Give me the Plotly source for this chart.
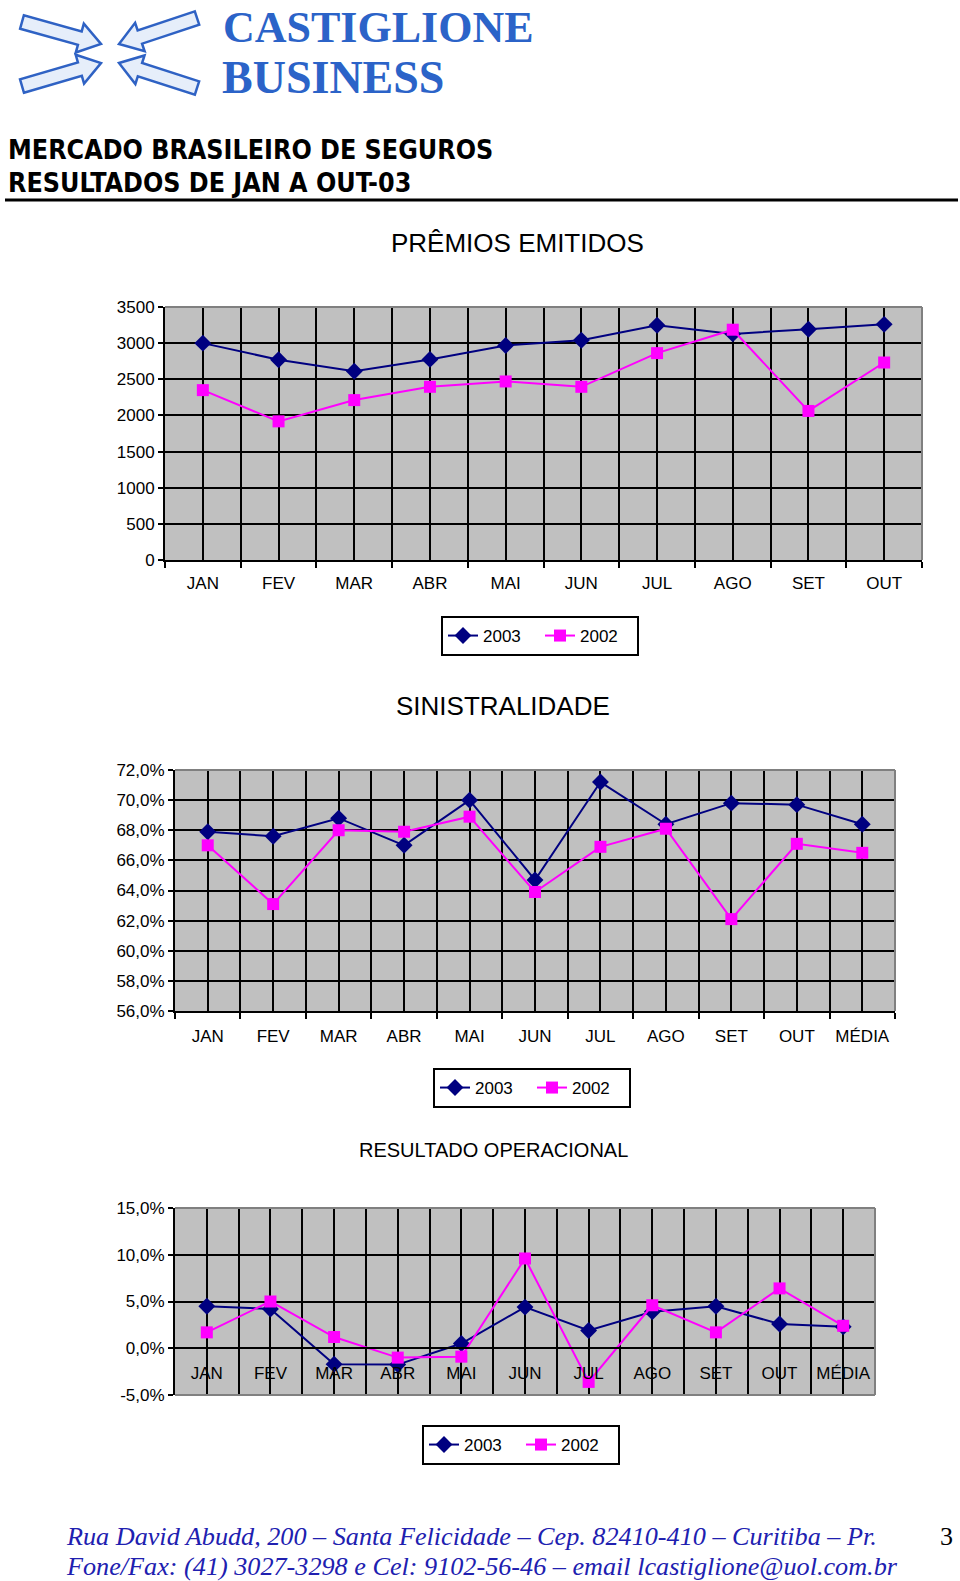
import plotly.graph_objects as go
import math

# ---------------- data ----------------
months10 = ["JAN", "FEV", "MAR", "ABR", "MAI", "JUN", "JUL", "AGO", "SET", "OUT"]
months11 = months10 + ["MÉDIA"]

premios_2003 = [3000, 2770, 2612, 2775, 2968, 3040, 3248, 3128, 3192, 3260]
premios_2002 = [2350, 1918, 2212, 2396, 2470, 2396, 2862, 3186, 2062, 2732]

sinistr_2003 = [67.9, 67.6, 68.8, 67.0, 70.0, 64.7, 71.2, 68.4, 69.8, 69.7, 68.4]
sinistr_2002 = [67.0, 63.1, 68.0, 67.9, 68.9, 63.9, 66.9, 68.1, 62.1, 67.1, 66.5]

result_2003 = [4.5, 4.2, -1.7, -1.75, 0.5, 4.4, 1.9, 3.9, 4.5, 2.6, 2.3]
result_2002 = [1.7, 5.0, 1.2, -1.0, -0.9, 9.6, -3.6, 4.6, 1.7, 6.4, 2.4]

premios_ticks = [0, 500, 1000, 1500, 2000, 2500, 3000, 3500]
sinistr_ticks = [56, 58, 60, 62, 64, 66, 68, 70, 72]
result_ticks = [-5, 0, 5, 10, 15]

# ---------------- page geometry ----------------
W, H = 960, 1581
def px(x):
    return x / W
def py(y):
    return 1 - y / H

C03 = "#000080"
C02 = "#FF00FF"
FONT = "Liberation Sans"

fig = go.Figure()

def add_series(xa, ya, cats, v03, v02, leg):
    idx = list(range(len(cats)))
    fig.add_trace(go.Scatter(x=idx, y=v03, name="2003", mode="lines+markers",
                             line=dict(color=C03, width=2),
                             marker=dict(symbol="diamond", size=13, color=C03),
                             xaxis=xa, yaxis=ya, legend=leg))
    fig.add_trace(go.Scatter(x=idx, y=v02, name="2002", mode="lines+markers",
                             line=dict(color=C02, width=2),
                             marker=dict(symbol="square", size=12, color=C02),
                             xaxis=xa, yaxis=ya, legend=leg))

add_series("x", "y", months10, premios_2003, premios_2002, "legend")
add_series("x2", "y2", months11, sinistr_2003, sinistr_2002, "legend2")
add_series("x3", "y3", months11, result_2003, result_2002, "legend3")

def xaxis_cfg(cats, dom, anchor, ticks="outside", position=None, standoff=6):
    n = len(cats)
    cfg = dict(domain=dom, range=[-0.5, n - 0.5], tickmode="array",
               tickvals=list(range(n)), ticktext=cats, ticks="",
               showgrid=True, gridcolor="black", gridwidth=2,
               showline=True, linecolor="black", linewidth=2,
               zeroline=False, fixedrange=True, ticklabelstandoff=standoff,
               automargin=False,
               tickfont=dict(family=FONT, size=17, color="black"),
               minor=dict(tickmode="array", tickvals=[i - 0.5 for i in range(n + 1)],
                          ticks=ticks, ticklen=6, tickwidth=1.5, tickcolor="black",
                          showgrid=True, gridcolor="black", gridwidth=2))
    if position is None:
        cfg["anchor"] = anchor
    else:
        cfg["anchor"] = "free"
        cfg["position"] = position
    return cfg

def yaxis_cfg(tv, dom, anchor, fmt):
    return dict(domain=dom, range=[tv[0], tv[-1]], tickmode="array", tickvals=tv,
                ticktext=[fmt(v) for v in tv], ticks="outside", ticklen=5,
                tickwidth=1.5, tickcolor="black",
                showgrid=True, gridcolor="black", gridwidth=2,
                showline=True, linecolor="black", linewidth=2,
                zeroline=False, anchor=anchor, fixedrange=True, automargin=False,
                tickfont=dict(family=FONT, size=17, color="black"))

pct = lambda v: ("%.1f%%" % v).replace(".", ",")

# plot areas in pixels
P1 = (165, 922, 307, 560)
P2 = (175, 895, 770, 1011)
P3 = (175, 875, 1208, 1395)

def dom(p):
    return [px(p[0]), px(p[1])], [py(p[3]), py(p[2])]

x1d, y1d = dom(P1)
x2d, y2d = dom(P2)
x3d, y3d = dom(P3)

zero_frac = (0 - result_ticks[0]) / (result_ticks[-1] - result_ticks[0])
zero_pos = y3d[0] + zero_frac * (y3d[1] - y3d[0])

fig.update_layout(
    xaxis=xaxis_cfg(months10, x1d, "y", standoff=7),
    yaxis=yaxis_cfg(premios_ticks, y1d, "x", lambda v: str(v)),
    xaxis2=xaxis_cfg(months11, x2d, "y2", standoff=9),
    yaxis2=yaxis_cfg(sinistr_ticks, y2d, "x2", pct),
    xaxis3=xaxis_cfg(months11, x3d, "y3", ticks="", position=zero_pos, standoff=9),
    yaxis3=yaxis_cfg(result_ticks, y3d, "x3", pct),
)

shapes = []

# gray top/right (and bottom for chart 3) borders of the plot areas
def border(p, bottom=False):
    x0, x1, y0, y1 = p
    segs = [((x0, y0), (x1, y0)), ((x1, y0), (x1, y1))]
    if bottom:
        segs.append(((x0, y1), (x1, y1)))
    for (a, b), (c, d) in segs:
        shapes.append(dict(type="line", xref="paper", yref="paper",
                           x0=px(a), y0=py(b), x1=px(c), y1=py(d),
                           line=dict(color="#808080", width=2), layer="above"))

border(P1)
border(P2)
border(P3, bottom=True)

# header rule
shapes.append(dict(type="line", xref="paper", yref="paper", x0=px(5), x1=px(958),
                   y0=py(200), y1=py(200), line=dict(color="black", width=3)))

# logo arrows (decorative)
def arrow(tail, tip, w=7, hw=15, hl=22):
    tx, ty = tail
    ex, ey = tip
    L = math.hypot(ex - tx, ey - ty)
    ux, uy = (ex - tx) / L, (ey - ty) / L
    nx, ny = -uy, ux
    hx, hy = ex - ux * hl, ey - uy * hl
    pts = [(tx + nx * w, ty + ny * w), (hx + nx * w, hy + ny * w), (hx + nx * hw, hy + ny * hw),
           (ex, ey), (hx - nx * hw, hy - ny * hw), (hx - nx * w, hy - ny * w), (tx - nx * w, ty - ny * w)]
    path = "M " + " L ".join("%.5f,%.5f" % (px(x), py(y)) for x, y in pts) + " Z"
    shapes.append(dict(type="path", xref="paper", yref="paper", path=path,
                       fillcolor="#E6EEFA", line=dict(color="#2F62C4", width=2.5)))

arrow((22, 22), (101, 44))
arrow((22, 86), (101, 63))
arrow((197, 18), (119, 44))
arrow((197, 88), (119, 63))

# legends
def legend_cfg(xc, ytop):
    return dict(orientation="h", x=px(xc), xanchor="center", y=py(ytop), yanchor="top",
                bordercolor="black", borderwidth=2, bgcolor="white",
                font=dict(family=FONT, size=17, color="black"),
                entrywidth=52, entrywidthmode="pixels",
                itemclick=False, itemdoubleclick=False, tracegroupgap=0)

# ---------------- text ----------------
ann = []
def text(x, y, s, size, family=FONT, color="black", xanchor="center", bold=False, italic=False):
    if bold:
        s = "<b>" + s + "</b>"
    if italic:
        s = "<i>" + s + "</i>"
    ann.append(dict(x=px(x), y=py(y), xref="paper", yref="paper", text=s, showarrow=False,
                    xanchor=xanchor, yanchor="middle",
                    font=dict(family=family, size=size, color=color)))

text(517, 243, "PRÊMIOS EMITIDOS", 26)
text(503, 706, "SINISTRALIDADE", 26)
text(493, 1150, "RESULTADO OPERACIONAL", 20)

text(6, 149, "MERCADO BRASILEIRO DE SEGUROS", 26.6, family="DejaVu Sans Condensed", xanchor="left", bold=True)
text(6, 182, "RESULTADOS DE JAN A OUT-03", 26.6, family="DejaVu Sans Condensed", xanchor="left", bold=True)

text(221, 27, "CASTIGLIONE", 44, family="Liberation Serif", color="#2B63C8", xanchor="left", bold=True)
text(220, 78, "BUSINESS", 46, family="Liberation Serif", color="#2B63C8", xanchor="left", bold=True)

text(64, 1536, "Rua David Abudd, 200 – Santa Felicidade – Cep. 82410-410 – Curitiba – Pr.", 26.2,
     family="Liberation Serif", color="#2020B0", xanchor="left", italic=True)
text(64, 1566, "Fone/Fax: (41) 3027-3298 e Cel: 9102-56-46 – email lcastiglione@uol.com.br", 26.2,
     family="Liberation Serif", color="#2020B0", xanchor="left", italic=True)
text(946, 1536, "3", 26, family="Liberation Serif")

fig.update_layout(
    annotations=ann, shapes=shapes,
    legend=legend_cfg(540, 616), legend2=legend_cfg(532, 1068), legend3=legend_cfg(521, 1425),
    width=W, height=H, autosize=False, margin=dict(l=0, r=0, t=0, b=0, autoexpand=False),
    paper_bgcolor="white", plot_bgcolor="#C0C0C0", showlegend=True,
    font=dict(family=FONT, color="black"))

fig.write_html("out.html", config={"displayModeBar": False, "responsive": False})
